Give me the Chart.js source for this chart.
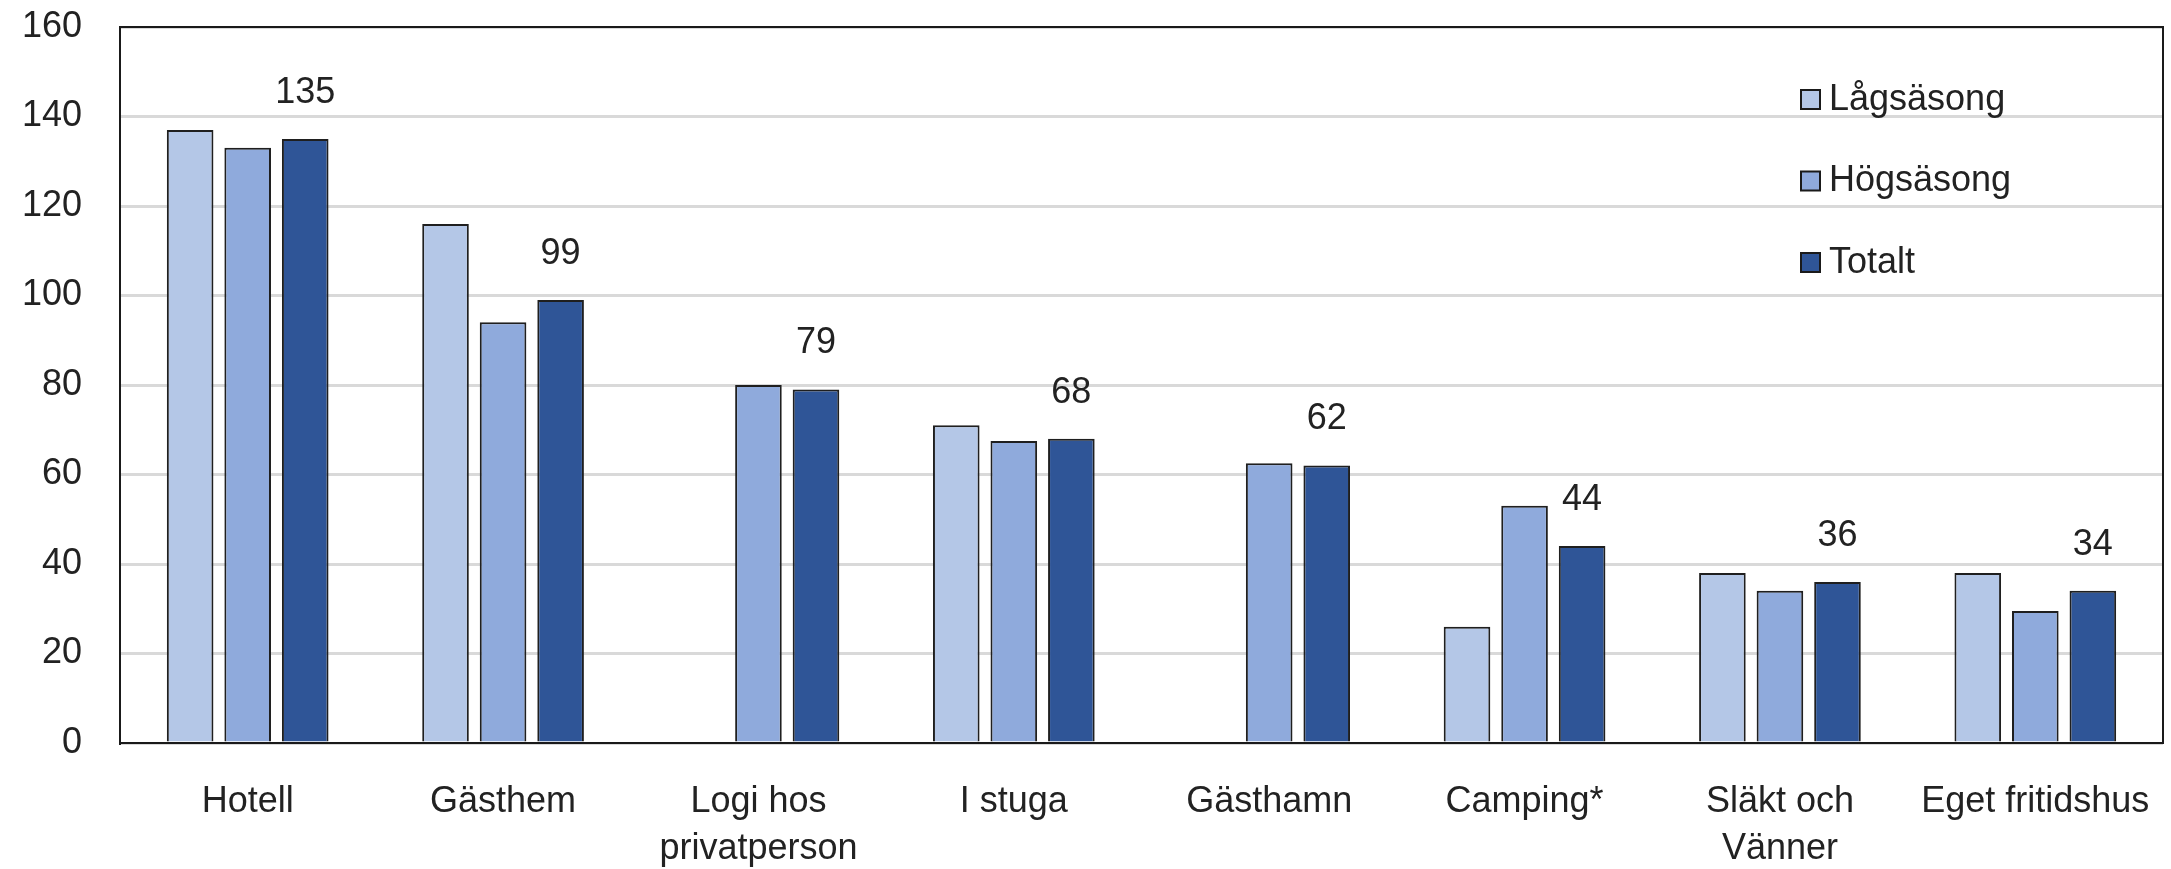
<!DOCTYPE html>
<html>
<head>
<meta charset="utf-8">
<script src="https://cdn.jsdelivr.net/npm/chart.js@4"></script>
<style>
    html, body { margin: 0; padding: 0; background: #fff; }
    #wrap { width: 2171px; height: 869px; position: relative; }
</style>
</head>
<body>
<div id="wrap"><canvas id="chart"></canvas></div>
<script>
// Chart data
const categories = [['Hotell'], ['Gästhem'], ['Logi hos', 'privatperson'], ['I stuga'], ['Gästhamn'], ['Camping*'], ['Släkt och', 'Vänner'], ['Eget fritidshus']];
const lagsasong = [137, 116, null, 71, null, 26, 38, 38];
const hogsasong = [133, 94, 80, 67.5, 62.5, 53, 34, 29.5];
const totalt = [135, 99, 79, 68, 62, 44, 36, 34];
const yTicks = [0, 20, 40, 60, 80, 100, 120, 140, 160];

const FONT = "'Liberation Sans', Arial, sans-serif";
const TEXT = '#222';
const SIZE = 36;

// Value labels above the Totalt bars
const totalLabels = {
    id: 'totalLabels',
    afterDatasetsDraw(chart) {
        const ctx = chart.ctx;
        const meta = chart.getDatasetMeta(2);
        ctx.save();
        ctx.font = SIZE + 'px ' + FONT;
        ctx.fillStyle = TEXT;
        ctx.textAlign = 'center';
        ctx.textBaseline = 'middle';
        meta.data.forEach((bar, i) => {
            ctx.fillText(String(totalt[i]), bar.x, bar.y - 46);
        });
        ctx.restore();
    }
};

// Plot frame + legend inside the plot area
const frameAndLegend = {
    id: 'frameAndLegend',
    afterDraw(chart) {
        const ctx = chart.ctx;
        const a = chart.chartArea;
        ctx.save();
        ctx.strokeStyle = '#1a1a1a';
        ctx.lineWidth = 2;
        ctx.strokeRect(a.left, a.top, a.right - a.left, a.bottom - a.top);

        const x0 = a.right - 362;
        chart.data.datasets.forEach((ds, i) => {
            const cy = a.top + 73 + i * 81.5;
            ctx.fillStyle = ds.backgroundColor;
            ctx.fillRect(x0, cy - 10, 19, 19);
            ctx.strokeStyle = '#1a1a1a';
            ctx.lineWidth = 2;
            ctx.strokeRect(x0, cy - 10, 19, 19);
            ctx.font = SIZE + 'px ' + FONT;
            ctx.fillStyle = TEXT;
            ctx.textAlign = 'left';
            ctx.textBaseline = 'middle';
            ctx.fillText(ds.label, x0 + 28, cy);
        });
        ctx.restore();
    }
};

const barStyle = { borderColor: '#1f1f1f', borderWidth: 2 };

new Chart(document.getElementById('chart'), {
    type: 'bar',
    data: {
        labels: categories,
        datasets: [
            { label: 'Lågsäsong', data: lagsasong, backgroundColor: '#b4c7e7', ...barStyle },
            { label: 'Högsäsong', data: hogsasong, backgroundColor: '#8faadc', ...barStyle },
            { label: 'Totalt', data: totalt, backgroundColor: '#2f5597', ...barStyle }
        ]
    },
    options: {
        responsive: true,
        maintainAspectRatio: false,
        animation: false,
        datasets: {
            bar: { categoryPercentage: 0.676, barPercentage: 0.81 }
        },
        layout: { padding: { left: 0, right: 8, top: 27, bottom: 0 } },
        plugins: {
            legend: { display: false },
            tooltip: { enabled: false }
        },
        scales: {
            x: {
                grid: { display: false, drawTicks: false },
                border: { color: '#1a1a1a', width: 2 },
                ticks: {
                    color: TEXT,
                    font: { family: FONT, size: SIZE, lineHeight: 1.3 },
                    padding: 36,
                    maxRotation: 0,
                    autoSkip: false
                },
                afterFit(scale) {
                    scale.height = 126;
                    scale.paddingLeft = 0;
                    scale.paddingRight = 0;
                }
            },
            y: {
                min: 0,
                max: 160,
                afterBuildTicks(scale) { scale.ticks = yTicks.map(v => ({ value: v })); },
                grid: { color: '#d9d9d9', lineWidth: 3, drawTicks: false },
                border: { color: '#1a1a1a', width: 2 },
                ticks: {
                    color: TEXT,
                    font: { family: FONT, size: SIZE },
                    padding: 38
                },
                afterFit(scale) {
                    scale.width = 120;
                    scale.paddingTop = 0;
                    scale.paddingBottom = 0;
                }
            }
        }
    },
    plugins: [totalLabels, frameAndLegend]
});
</script>
</body>
</html>
